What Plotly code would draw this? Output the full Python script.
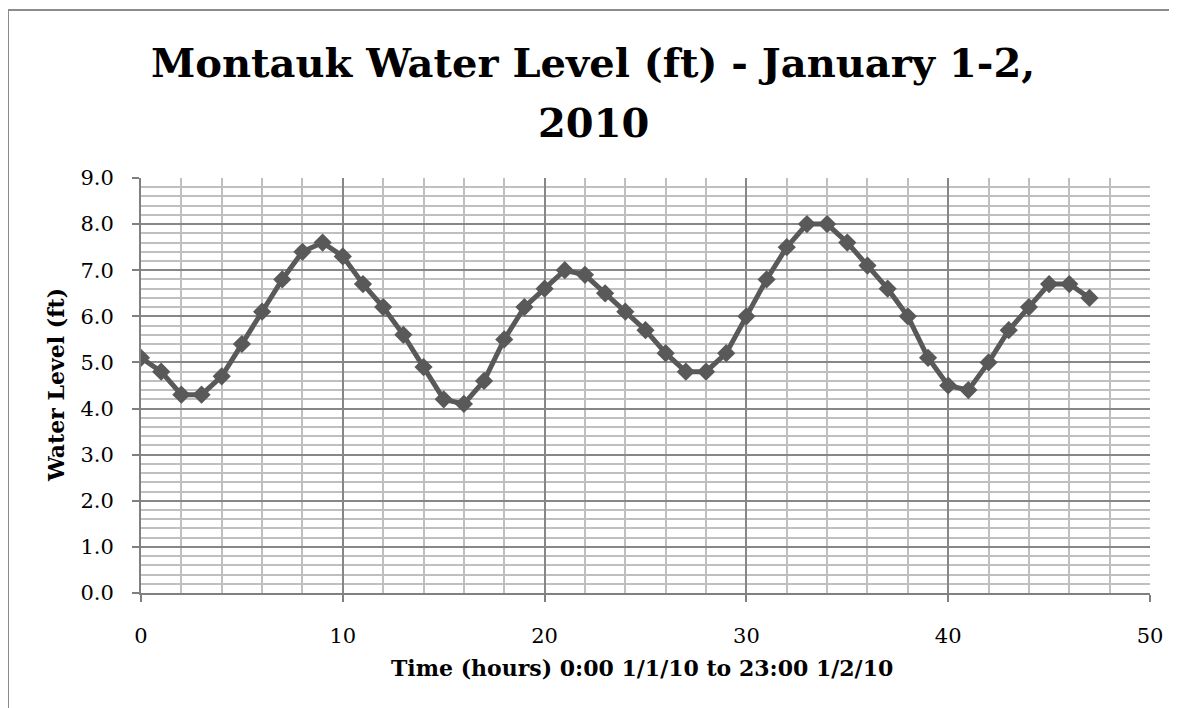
import plotly.graph_objects as go

hours = list(range(48))
water_level = [5.1, 4.8, 4.3, 4.3, 4.7, 5.4, 6.1, 6.8, 7.4, 7.6,
               7.3, 6.7, 6.2, 5.6, 4.9, 4.2, 4.1, 4.6, 5.5, 6.2,
               6.6, 7.0, 6.9, 6.5, 6.1, 5.7, 5.2, 4.8, 4.8, 5.2,
               6.0, 6.8, 7.5, 8.0, 8.0, 7.6, 7.1, 6.6, 6.0, 5.1,
               4.5, 4.4, 5.0, 5.7, 6.2, 6.7, 6.7, 6.4]
x_ticks = [0, 10, 20, 30, 40, 50]
y_ticks = [0, 1, 2, 3, 4, 5, 6, 7, 8, 9]

title_lines = ["Montauk Water Level (ft) - January 1-2,", "2010"]
x_title = "Time (hours) 0:00 1/1/10 to 23:00 1/2/10"
y_title = "Water Level (ft)"

OFF = 8  # page body margin
W, H = 1177 - OFF, 708 - OFF
L, R, T, B = 141 - OFF, 1150 - OFF, 178 - OFF, 593 - OFF
pw, ph = R - L, B - T


def px_x(p):
    return (p - OFF - L) / pw


def px_y(p):
    return 1 - (p - OFF - T) / ph


fig = go.Figure()
fig.add_trace(go.Scatter(
    x=hours, y=water_level, mode="lines+markers",
    line=dict(color="#595959", width=5),
    marker=dict(symbol="diamond", size=14, color="#595959"),
    showlegend=False,
))

serif = "DejaVu Serif"
grid_major = "#878787"
grid_minor = "#bfbfbf"
fig.update_layout(
    width=W, height=H,
    margin=dict(l=L, r=W - R, t=T, b=H - B),
    paper_bgcolor="white", plot_bgcolor="white",
    font=dict(family=serif, color="black"),
    xaxis=dict(
        range=[0, 50], tickvals=x_ticks, ticktext=[str(v) for v in x_ticks],
        showgrid=True, gridcolor=grid_major, gridwidth=1.5,
        minor=dict(dtick=2, showgrid=True, gridcolor=grid_minor, gridwidth=1.5),
        showline=True, linecolor="#808080", linewidth=2,
        ticks="outside", ticklen=7, tickcolor="#808080", tickwidth=2,
        tickfont=dict(size=21, family=serif), ticklabelstandoff=16,
        zeroline=False, automargin=False,
    ),
    yaxis=dict(
        range=[0, 9], tickvals=y_ticks, ticktext=[f"{v:.1f}" for v in y_ticks],
        showgrid=True, gridcolor=grid_major, gridwidth=1.5,
        minor=dict(dtick=0.2, showgrid=True, gridcolor=grid_minor, gridwidth=1.5),
        showline=True, linecolor="#808080", linewidth=2,
        ticks="outside", ticklen=7, tickcolor="#808080", tickwidth=2,
        tickfont=dict(size=21, family=serif), ticklabelstandoff=14,
        zeroline=False, automargin=False,
    ),
    annotations=[
        dict(text=f"<b>{title_lines[0]}</b>", xref="paper", yref="paper",
             x=px_x(593), y=px_y(62), xanchor="center", yanchor="middle",
             showarrow=False, font=dict(family=serif, size=40, color="black")),
        dict(text=f"<b>{title_lines[1]}</b>", xref="paper", yref="paper",
             x=px_x(593), y=px_y(122), xanchor="center", yanchor="middle",
             showarrow=False, font=dict(family=serif, size=40, color="black")),
        dict(text=f"<b>{x_title}</b>", xref="paper", yref="paper",
             x=px_x(642), y=px_y(668), xanchor="center", yanchor="middle",
             showarrow=False, font=dict(family=serif, size=22, color="black")),
        dict(text=f"<b>{y_title}</b>", xref="paper", yref="paper", textangle=-90,
             x=px_x(56), y=px_y(385), xanchor="center", yanchor="middle",
             showarrow=False, font=dict(family=serif, size=22, color="black")),
    ],
    shapes=[
        dict(type="line", xref="paper", yref="paper",
             x0=px_x(8), x1=px_x(1200), y0=px_y(10), y1=px_y(10),
             line=dict(color="#8c8c8c", width=2), layer="below"),
        dict(type="line", xref="paper", yref="paper",
             x0=px_x(8), x1=px_x(8), y0=px_y(10), y1=px_y(730),
             line=dict(color="#8c8c8c", width=2), layer="below"),
    ],
)
fig.write_html("out.html")
